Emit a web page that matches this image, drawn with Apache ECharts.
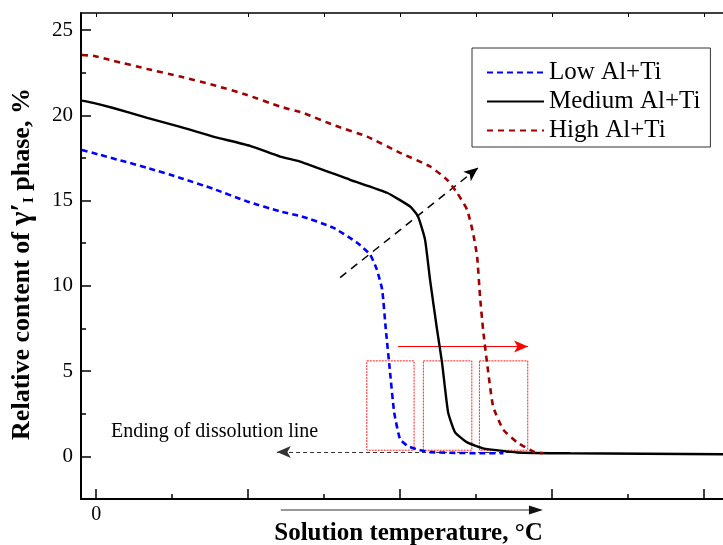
<!DOCTYPE html>
<html>
<head>
<meta charset="utf-8">
<script src="https://cdn.jsdelivr.net/npm/echarts@6/dist/echarts.min.js"></script>
<style>
  html, body { margin: 0; padding: 0; background: #fff; }
  #chart { width: 723px; height: 545px; }
</style>
</head>
<body>
<div id="chart"></div>
<script>
// temperature axis: 0 at first major tick, 100 units per major tick (values unlabeled in the source)
var lowT = [-9.4, 2.6, 33.6, 55.3, 77.0, 99.3, 121.1, 135.3, 156, 171.7, 180.3, 184.7, 188.2, 190.6, 193.4, 196.1, 200, 205.3, 211.2, 219.7, 254.6, 268];
var lowC = [17.97, 17.68, 16.92, 16.33, 15.69, 14.95, 14.36, 14.07, 13.41, 12.53, 11.83, 10.95, 9.78, 7.44, 4.92, 2.58, 1.0, 0.59, 0.41, 0.25, 0.18, 0.18];

var medT = [-9.4, -2, 11.2, 33.6, 55.3, 77.0, 101.3, 121.1, 134.2, 167.1, 191.4, 206.6, 211.8, 216.4, 219.7, 224.3, 227.6, 231.6, 236.2, 244.1, 254.6, 277.0, 311.8, 412.5];
var medC = [20.86, 20.73, 20.43, 19.85, 19.32, 18.75, 18.21, 17.58, 17.29, 16.22, 15.46, 14.65, 14.07, 12.71, 10.36, 7.44, 5.50, 2.58, 1.41, 0.82, 0.47, 0.23, 0.18, 0.12];

var highT = [-9.4, -2, 11.2, 33.6, 55.3, 77.0, 99.3, 121.1, 136.2, 155.9, 178.3, 200, 219.7, 230.9, 237.5, 244.1, 248.0, 250.7, 252.6, 254.6, 257.2, 261.2, 267.8, 277.0, 287.5, 294];
var highC = [23.54, 23.49, 23.2, 22.72, 22.27, 21.78, 21.19, 20.51, 20.14, 19.44, 18.75, 17.80, 17.0, 16.22, 15.46, 14.46, 13.11, 11.71, 9.37, 7.44, 5.50, 2.93, 1.58, 0.82, 0.29, 0.18];

var yMajor = [0, 5, 10, 15, 20, 25];
var yMinor = [2.5, 7.5, 12.5, 17.5, 22.5];
var xMajor = [0, 100, 200, 300, 400];
var xMinor = [50, 150, 250, 350];
var xTop = [0, 50, 100, 150, 200, 250, 300, 350, 400];
var xLabels = [0];

// annotation geometry in data units
var boxes = [[178.1, 209.2], [215.3, 247.2], [252.2, 284.0]];
var boxLow = 0.36, boxHigh = 5.6;
var tempArrow = [121.5, 294]; // arrow under the temperature axis

function pairs(xs, ys) { return xs.map(function (x, i) { return [x, ys[i]]; }); }

var serif = '"Liberation Serif", "Times New Roman", serif';

var chart = echarts.init(document.getElementById('chart'));
var option = {
    animation: false,
    grid: { left: 81, right: 0, top: 13, bottom: 46, outerBoundsMode: 'none', containLabel: false },
    legend: {
        data: ['Low Al+Ti', 'Medium Al+Ti', 'High Al+Ti'],
        orient: 'vertical',
        left: 472, top: 48,
        padding: [12, 10, 4, 14],
        itemWidth: 57, itemHeight: 14, itemGap: 4,
        itemStyle: { opacity: 0 },
        borderColor: '#333', borderWidth: 1,
        textStyle: { fontFamily: serif, fontSize: 25, color: '#000', lineHeight: 25 }
    },
    xAxis: [{
        type: 'value', min: -10, max: 412.5, position: 'bottom',
        axisLine: { onZero: false, lineStyle: { color: '#000', width: 2 } },
        axisTick: { inside: true, length: 10, customValues: xMajor, lineStyle: { color: '#000', width: 1.5 } },
        axisLabel: { customValues: xLabels, fontFamily: serif, fontSize: 20, color: '#000', margin: 6 },
        splitLine: { show: false },
        name: 'Solution temperature, °C', nameLocation: 'middle', nameGap: 22, nameMoveOverlap: false,
        nameTextStyle: { fontFamily: serif, fontWeight: 'bold', fontSize: 25, color: '#000', padding: [0, 0, 0, 13] }
    }, {
        type: 'value', min: -10, max: 412.5, position: 'bottom',
        axisLine: { show: false, onZero: false },
        axisTick: { inside: true, length: 5, customValues: xMinor, lineStyle: { color: '#000', width: 1.5 } },
        axisLabel: { show: false }, splitLine: { show: false }
    }, {
        type: 'value', min: -10, max: 412.5, position: 'top',
        axisLine: { onZero: false, lineStyle: { color: '#000', width: 1.5 } },
        axisTick: { inside: true, length: 4, customValues: xTop, lineStyle: { color: '#000', width: 1 } },
        axisLabel: { show: false }, splitLine: { show: false }
    }],
    yAxis: [{
        type: 'value', min: -2.5, max: 26, position: 'left',
        axisLine: { show: true, onZero: false, lineStyle: { color: '#000', width: 2 } },
        axisTick: { show: true, inside: true, length: 10, customValues: yMajor, lineStyle: { color: '#000', width: 1.5 } },
        axisLabel: { customValues: yMajor, fontFamily: serif, fontSize: 21, color: '#000', margin: 8 },
        splitLine: { show: false },
        name: 'Relative content of {g|γ′}{s|I} phase, %',
        nameLocation: 'middle', nameRotate: 90, nameGap: 44, nameMoveOverlap: false,
        nameTextStyle: {
            fontFamily: serif, fontWeight: 'bold', fontSize: 26, color: '#000', padding: [0, 16, 0, 0],
            rich: {
                g: { fontFamily: serif, fontWeight: 'bold', fontSize: 30, color: '#000' },
                s: { fontFamily: serif, fontWeight: 'bold', fontSize: 15, color: '#000', verticalAlign: 'bottom', padding: [12, 0, 0, 0] }
            }
        }
    }, {
        type: 'value', min: -2.5, max: 26, position: 'left',
        axisLine: { show: false, onZero: false },
        axisTick: { show: true, inside: true, length: 5, customValues: yMinor, lineStyle: { color: '#000', width: 1.5 } },
        axisLabel: { show: false }, splitLine: { show: false }
    }],
    series: [{
        name: 'Low Al+Ti', type: 'line', symbol: 'none', smooth: 0.15, z: 5,
        data: pairs(lowT, lowC),
        lineStyle: { color: '#0000ff', width: 2.6, type: [6, 4] },
        itemStyle: { color: '#0000ff' }
    }, {
        name: 'Medium Al+Ti', type: 'line', symbol: 'none', smooth: 0.15, z: 5,
        data: pairs(medT, medC),
        lineStyle: { color: '#000', width: 2.4 },
        itemStyle: { color: '#000' }
    }, {
        name: 'High Al+Ti', type: 'line', symbol: 'none', smooth: 0.15, z: 5,
        data: pairs(highT, highC),
        lineStyle: { color: '#a00000', width: 2.6, type: [6, 5] },
        itemStyle: { color: '#a00000' }
    }, {
        name: 'notes', type: 'line', data: [], clip: false, z: 3,
        markArea: {
            silent: true,
            itemStyle: { color: 'rgba(0,0,0,0)', borderColor: '#ff2020', borderWidth: 1, borderType: [2, 1] },
            data: boxes.map(function (b) { return [{ coord: [b[0], boxHigh] }, { coord: [b[1], boxLow] }]; })
        },
        markLine: {
            silent: true, animation: false,
            symbol: ['none', 'arrow'], symbolSize: [9, 14],
            label: { show: false },
            data: [
                [{ coord: [160.5, 10.48], lineStyle: { color: '#000', width: 1.5, type: [8, 6] } }, { coord: [251.3, 16.92] }],
                [{ coord: [198.7, 6.44], lineStyle: { color: '#ff0000', width: 1.2, type: 'solid' } }, { coord: [284.2, 6.44] }],
                [{ coord: [295.4, 0.25], lineStyle: { color: '#333', width: 1, type: [4, 3] } }, { coord: [118.9, 0.25] }]
            ]
        },
        markPoint: {
            silent: true, symbol: 'circle', symbolSize: 0,
            data: [{ coord: [9.7, 1.45], value: 'Ending of dissolution line' }],
            label: { show: true, position: 'right', distance: 0, formatter: '{c}', fontFamily: serif, fontSize: 20, color: '#000' }
        }
    }]
};
chart.setOption(option);

// arrow drawn just under the temperature axis line
var p0 = chart.convertToPixel({ xAxisIndex: 0 }, tempArrow[0]);
var p1 = chart.convertToPixel({ xAxisIndex: 0 }, tempArrow[1]);
var ay = 510;
chart.setOption({
    graphic: [{
        type: 'line', silent: true,
        shape: { x1: p0, y1: ay, x2: p1 - 10, y2: ay },
        style: { stroke: '#333', lineWidth: 1.2 }
    }, {
        type: 'polygon', silent: true,
        shape: { points: [[p1, ay], [p1 - 14, ay - 4.5], [p1 - 14, ay + 4.5]] },
        style: { fill: '#111' }
    }]
});
</script>
</body>
</html>
